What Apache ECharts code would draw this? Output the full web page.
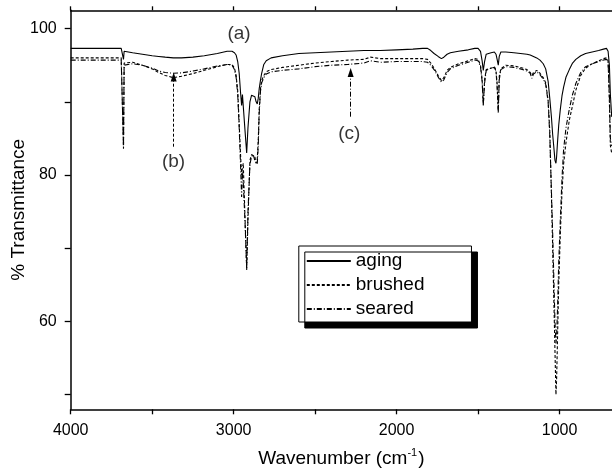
<!DOCTYPE html>
<html>
<head>
<meta charset="utf-8">
<script src="https://cdn.jsdelivr.net/npm/echarts@6/dist/echarts.min.js"></script>
<style>html,body{margin:0;padding:0;background:#fff}#c{width:612px;height:470px}</style>
</head>
<body>
<div id="c"></div>
<script>
// Wavenumbers (cm-1)
var wavenumbers = [4000,3800,3690,3680,3676,3672,3668,3660,3620,3560,3500,3460,3420,3370,3320,3250,3180,3100,3040,3010,2995,2985,2975,2966,2957,2951,2946,2941,2930,2920,2912,2900,2890,2880,2870,2862,2855,2849,2843,2835,2828,2815,2800,2770,2700,2600,2500,2400,2300,2200,2160,2100,2000,1900,1840,1810,1790,1770,1745,1725,1710,1690,1670,1620,1560,1520,1500,1485,1475,1468,1460,1450,1420,1400,1390,1383,1376,1370,1360,1330,1280,1240,1200,1180,1170,1160,1140,1120,1100,1085,1070,1060,1050,1042,1035,1028,1022,1018,1012,1005,995,985,975,960,940,920,900,870,840,800,760,730,712,702,694,688,680,670,660];
var aging = [97.3,97.3,97.3,97.2,95.8,96.9,96.9,96.8,96.7,96.5,96.3,96.2,96.1,96.0,96.0,96.1,96.3,96.6,96.9,96.9,96.7,96.4,95.5,93.9,91.1,89.5,91.0,90.8,86.0,83.0,86.5,90.0,90.9,91.1,90.7,90.0,89.7,90.5,91.8,93.0,93.9,95.1,95.6,96.0,96.3,96.6,96.7,96.8,96.9,97.0,97.0,97.0,97.1,97.2,97.3,97.3,97.0,96.6,96.2,95.9,96.1,96.5,96.7,96.9,97.1,97.3,97.3,96.9,95.6,94.3,95.5,96.5,96.7,96.8,96.5,95.8,95.0,96.2,96.8,96.8,96.7,96.6,96.5,96.4,96.3,96.2,96.0,95.7,95.2,94.5,92.8,90.5,88.0,85.5,83.8,82.0,81.6,82.5,84.6,86.8,89.0,90.8,92.0,93.4,94.4,95.3,95.8,96.3,96.6,96.8,97.0,97.2,97.3,96.9,95.0,91.0,88.0,88.0,88.0];
var brushed = [96.0,96.0,96.0,95.9,83.6,95.3,95.5,95.5,95.4,95.0,94.5,94.0,93.6,93.3,93.5,93.85,94.3,94.8,95.1,95.1,94.6,93.6,91.5,87.0,82.5,80.0,81.0,81.6,74.0,67.0,74.0,82.0,82.8,83.0,82.5,81.6,82.2,84.7,89.0,91.8,92.9,93.6,94.1,94.4,94.7,95.0,95.3,95.5,95.7,95.8,96.1,95.9,95.9,95.9,95.9,95.8,95.3,94.6,93.6,92.9,93.3,94.3,94.7,95.2,95.6,95.9,95.8,95.0,93.0,89.5,93.0,94.4,94.6,94.8,94.3,92.5,88.6,93.5,94.5,95.0,94.9,94.7,94.4,94.0,93.6,94.0,94.3,93.9,93.3,92.6,90.2,86.0,77.5,70.0,63.0,56.0,50.0,52.0,58.0,65.0,72.0,77.6,81.5,84.5,87.5,89.5,91.6,93.6,94.6,95.2,95.6,95.9,96.0,95.6,90.0,84.0,83.0,83.0,83.0];
var seared = [95.7,95.7,95.7,95.6,83.8,95.0,95.1,95.1,95.2,95.0,94.6,94.2,94.0,93.9,93.95,94.2,94.5,94.9,95.1,95.0,94.4,93.4,91.0,86.5,81.0,77.0,80.5,79.0,73.5,67.3,75.0,81.5,82.5,82.8,82.0,81.8,81.5,84.0,88.5,91.5,92.6,93.3,93.8,94.1,94.3,94.5,94.8,95.0,95.1,95.3,95.6,95.4,95.5,95.5,95.5,95.4,95.0,94.4,93.4,92.7,93.0,94.0,94.5,95.0,95.4,95.7,95.6,94.8,92.8,89.6,92.5,94.3,94.6,94.7,94.2,92.0,88.5,93.0,94.4,94.8,94.7,94.5,94.2,93.9,93.2,93.8,94.1,93.7,93.1,92.4,90.0,85.5,78.0,72.0,66.0,60.0,57.0,58.0,62.0,68.0,74.0,79.5,83.5,86.5,89.0,91.0,92.5,94.0,94.8,95.2,95.5,95.7,95.8,95.5,91.0,85.0,84.0,84.0,84.0];

var seriesNames = ['aging', 'brushed', 'seared'];
var xTickValues = [1000,1500,2000,2500,3000,3500,4000];
var xLabelValues = [1000,2000,3000,4000];
var yTickValues = [50,60,70,80,90,100];
var yLabelValues = [60,80,100];

// annotation labels [wavenumber, %T, text]
var annotLabels = [[2967, 99.36, '(a)'], [3369, 81.82, '(b)'], [2290, 85.67, '(c)']];
// annotation arrows [wavenumber, %T start, %T end]
var arrowB = [3368, 83.87, 93.4];
var arrowC = [2282, 87.97, 94.0];

function zip(xs, ys) { return xs.map(function (x, i) { return [x, ys[i]]; }); }
function plain(v) { return String(v); }

var FONT = '"Liberation Sans", Arial, sans-serif';
var chart = echarts.init(document.getElementById('c'), null, {renderer: 'canvas'});

var dashB = [3, 2];
var dashC = [5, 2, 1, 2];
var LW = 1.1;

var option = {
  animation: false,
  backgroundColor: '#fff',
  grid: {left: 70.7, right: 0, top: 10.3, bottom: 60.7, show: false, containLabel: false, outerBoundsMode: 'none'},
  legend: {
    data: seriesNames,
    orient: 'vertical',
    left: 298.8, top: 246,
    padding: [5, 47, 3, 7],
    itemGap: 4,
    itemWidth: 44, itemHeight: 14,
    itemStyle: {opacity: 0},
    backgroundColor: '#fff',
    borderColor: '#000', borderWidth: 1,
    shadowColor: '#000', shadowBlur: 0, shadowOffsetX: 6, shadowOffsetY: 6,
    textStyle: {fontFamily: FONT, fontSize: 19, color: '#000', lineHeight: 20},
    selectedMode: false,
    z: 10
  },
  xAxis: [{
    type: 'value', inverse: true, min: 678, max: 4000, position: 'bottom',
    name: 'Wavenumber (cm{sup|-1})', nameLocation: 'middle', nameGap: 38, nameMoveOverlap: false,
    nameTextStyle: {fontFamily: FONT, fontSize: 19, color: '#000', lineHeight: 22,
      rich: {sup: {fontFamily: FONT, fontSize: 11, color: '#000', verticalAlign: 'top', lineHeight: 12, padding: [0, 1, 8, 0]}}},
    splitLine: {show: false},
    axisLine: {show: true, onZero: false, lineStyle: {color: '#000', width: 1.5}},
    axisTick: {show: true, inside: false, length: 5, customValues: xTickValues, lineStyle: {color: '#000', width: 1.3}},
    axisLabel: {show: true, customValues: xLabelValues, formatter: plain, margin: 13, fontFamily: FONT, fontSize: 16, color: '#000'}
  }, {
    type: 'value', inverse: true, min: 678, max: 4000, position: 'top',
    splitLine: {show: false},
    axisLine: {show: true, onZero: false, lineStyle: {color: '#000', width: 1.5}},
    axisTick: {show: true, inside: false, length: 4, customValues: xTickValues, lineStyle: {color: '#000', width: 1.3}},
    axisLabel: {show: false}
  }],
  yAxis: [{
    type: 'value', min: 48, max: 102.5,
    name: '% Transmittance', nameLocation: 'middle', nameGap: 42, nameMoveOverlap: false,
    nameTextStyle: {fontFamily: FONT, fontSize: 19, color: '#000'},
    splitLine: {show: false},
    axisLine: {show: true, onZero: false, lineStyle: {color: '#000', width: 1.5}},
    axisTick: {show: true, inside: false, length: 6, customValues: yTickValues, lineStyle: {color: '#000', width: 1.3}},
    axisLabel: {show: true, customValues: yLabelValues, formatter: plain, margin: 14, fontFamily: FONT, fontSize: 16, color: '#000'}
  }],
  series: [{
    name: 'aging', type: 'line', data: zip(wavenumbers, aging), symbol: 'none', showSymbol: false,
    lineStyle: {color: '#000', width: LW, type: 'solid'}, itemStyle: {color: '#000'}, z: 3, silent: true
  }, {
    name: 'brushed', type: 'line', data: zip(wavenumbers, brushed), symbol: 'none', showSymbol: false,
    lineStyle: {color: '#000', width: LW, type: dashB}, itemStyle: {color: '#000'}, z: 3, silent: true,
    markLine: {
      silent: true, animation: false,
      symbol: ['none', 'triangle'], symbolSize: [6, 9],
      label: {show: false},
      data: [
        [{coord: [arrowB[0], arrowB[1]], lineStyle: {color: '#000', width: 1, type: dashB}},
         {coord: [arrowB[0], arrowB[2]]}],
        [{coord: [arrowC[0], arrowC[1]], lineStyle: {color: '#000', width: 1, type: dashC}},
         {coord: [arrowC[0], arrowC[2]]}]
      ]
    }
  }, {
    name: 'seared', type: 'line', data: zip(wavenumbers, seared), symbol: 'none', showSymbol: false,
    lineStyle: {color: '#000', width: LW, type: dashC}, itemStyle: {color: '#000'}, z: 3, silent: true
  }, {
    name: 'annotations', type: 'scatter', data: annotLabels, symbolSize: 0, silent: true,
    itemStyle: {color: 'transparent'},
    label: {show: true, position: 'inside', formatter: function (p) { return p.value[2]; },
      fontFamily: FONT, fontSize: 19, color: '#000'}
  }]
};
chart.setOption(option);
</script>
</body>
</html>
